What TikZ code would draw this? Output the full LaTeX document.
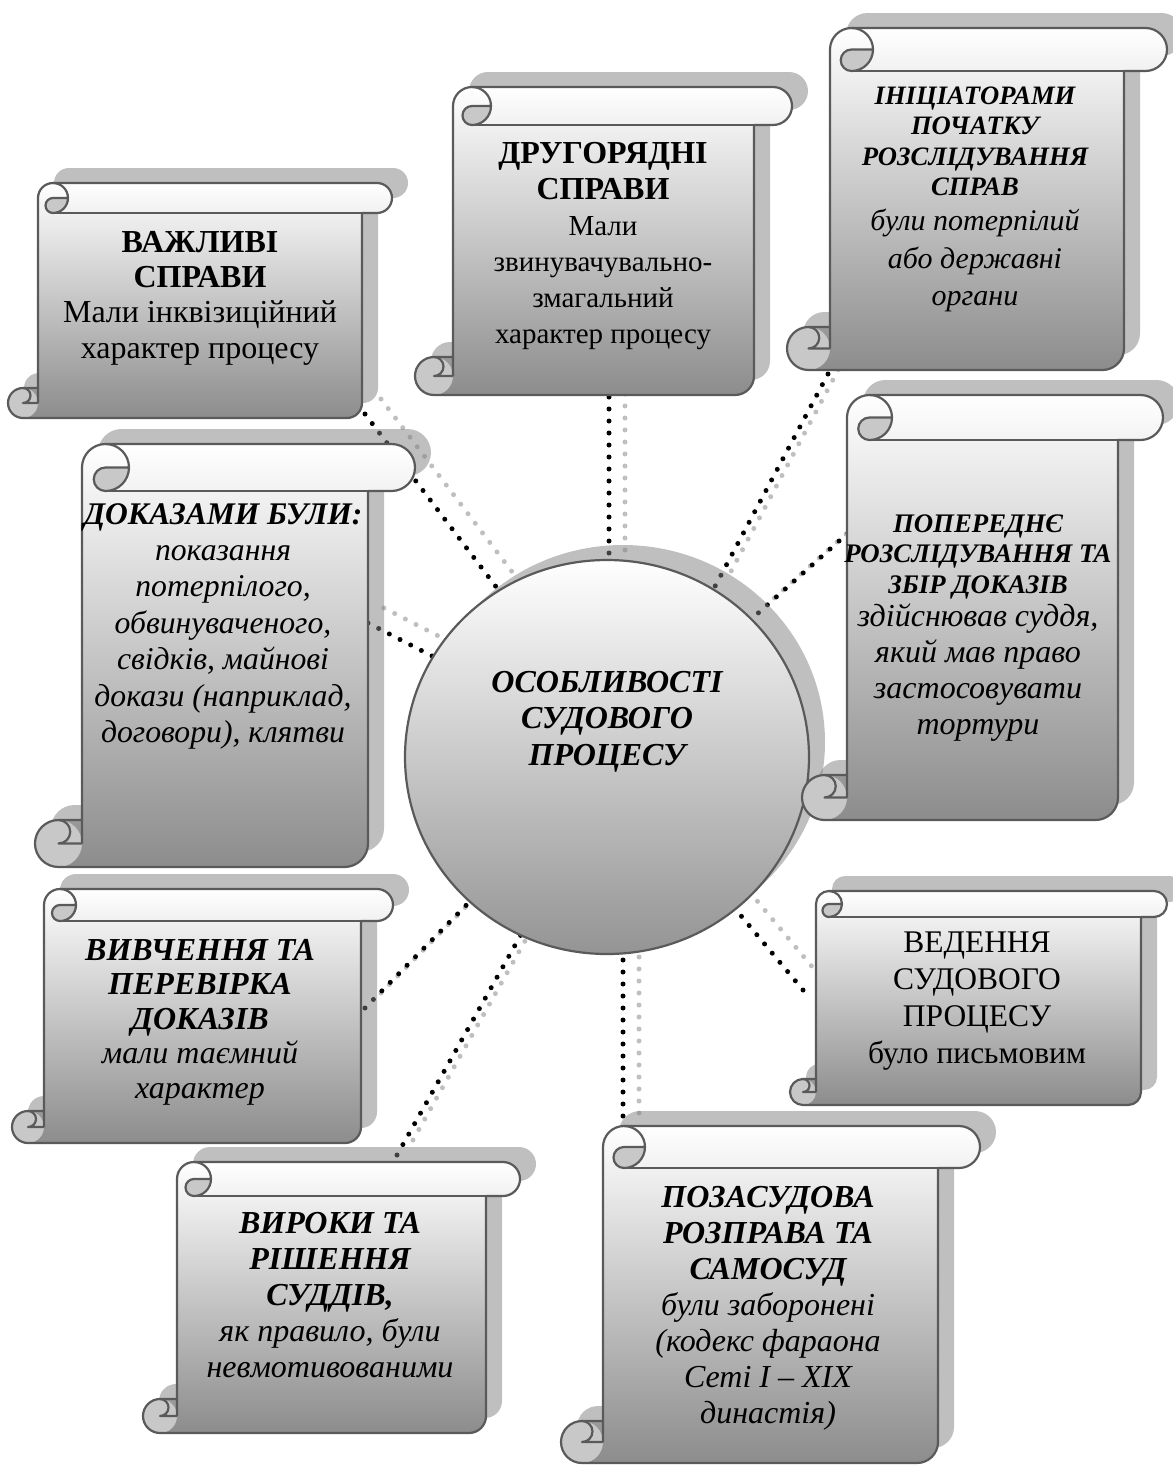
\documentclass[tikz,border=0pt]{standalone}
\usepackage{fontspec}
\setmainfont{Liberation Serif}
\usetikzlibrary{shapes.geometric}
\definecolor{edge}{HTML}{5A5A5A}
\definecolor{curl}{HTML}{C8C8C8}
\newcommand\tyB{\bfseries\upshape}
\newcommand\tyBI{\bfseries\itshape}
\newcommand\tyI{\mdseries\itshape}
\newcommand\tyR{\mdseries\upshape}
\tikzset{
 outl/.style={draw=edge, line width=2.2pt, line join=round},
 shadowfill/.style={fill=black!50, fill opacity=0.5},
 dotsblack/.style={draw=black, line width=5pt, line cap=round, dash pattern=on 0pt off 12pt},
 dotsshadow/.style={draw=black!50, draw opacity=0.5, line width=5pt, line cap=round, dash pattern=on 0pt off 12pt},
 shd/.style={xshift=16pt, yshift=15pt},
 txt/.style={anchor=north, inner sep=0pt, align=center, text=black},
}
% x0, y0, x1, y1, roll thickness (pixel coordinates, y downwards)
\newcommand\DrawScroll[5]{%
 \pgfmathsetmacro\Ch{#5/2}\pgfmathsetmacro\Cq{#5/4}%
 \pgfmathsetmacro\Xa{#1+#5}\pgfmathsetmacro\Xc{#1+#5/2}%
 \pgfmathsetmacro\Xt{#1+1.5*#5}\pgfmathsetmacro\Xf{#1+2*#5}%
 \pgfmathsetmacro\Xs{#3-#5}\pgfmathsetmacro\Xr{#3-#5/2}\pgfmathsetmacro\Xq{#3-1.5*#5}%
 \pgfmathsetmacro\Yr{#2+#5}\pgfmathsetmacro\Ym{#2+#5/2}%
 \pgfmathsetmacro\Yt{#4-#5}\pgfmathsetmacro\Yh{#4-#5/2}%
 \fill[shadowfill,xshift=16pt,yshift=15pt] (\Xc,#4) -- (\Xq,#4) arc[start angle=90,end angle=0,radius=\Ch]
   -- (\Xs,\Yr) -- (\Xr,\Yr) arc[start angle=90,end angle=-90,radius=\Ch]
   -- (\Xt,#2) arc[start angle=270,end angle=180,radius=\Ch]
   -- (\Xa,\Yt) -- (\Xc,\Yt) arc[start angle=270,end angle=90,radius=\Ch] -- cycle;
 \shade[top color=white,bottom color=black!45] (\Xc,#4) -- (\Xq,#4) arc[start angle=90,end angle=0,radius=\Ch]
   -- (\Xs,\Yr) -- (\Xr,\Yr) arc[start angle=90,end angle=-90,radius=\Ch]
   -- (\Xt,#2) arc[start angle=270,end angle=180,radius=\Ch]
   -- (\Xa,\Yt) -- (\Xc,\Yt) arc[start angle=270,end angle=90,radius=\Ch] -- cycle;
 \fill[curl] (\Xc,\Yh) circle[radius=\Ch];
 \fill[curl] (\Xt,\Ym) -- (\Xf,\Ym) arc[start angle=0,end angle=90,radius=\Ch]
   arc[start angle=90,end angle=270,radius=\Cq] -- cycle;
 \draw[outl] (\Xa,\Yh) -- (\Xa,\Ym) arc[start angle=180,end angle=270,radius=\Ch]
   -- (\Xr,#2) arc[start angle=-90,end angle=90,radius=\Ch]
   -- (\Xs,\Yr) -- (\Xs,\Yh) arc[start angle=0,end angle=90,radius=\Ch]
   -- (\Xc,#4) arc[start angle=90,end angle=270,radius=\Ch] -- (\Xa,\Yt);
 \draw[outl] (\Xt,#2) arc[start angle=-90,end angle=90,radius=\Ch]
   arc[start angle=90,end angle=270,radius=\Cq] -- (\Xf,\Ym);
 \draw[outl] (\Xt,\Yr) -- (\Xs,\Yr);
 \draw[outl] (\Xc,\Yt) arc[start angle=-90,end angle=90,radius=\Cq] -- (\Xa,\Yh);
}
\begin{document}
\begin{tikzpicture}[x=1pt,y=-1pt]
\useasboundingbox (0,0) rectangle (1173,1465);
% connector end points
\coordinate (a1) at (365,414);  \coordinate (b1) at (500,592);
\coordinate (a2) at (609,397);  \coordinate (b2) at (609,568);
\coordinate (a3) at (828,374);  \coordinate (b3) at (712,592);
\coordinate (a4) at (848,533);  \coordinate (b4) at (756,615);
\coordinate (a5) at (368,623);  \coordinate (b5) at (436,658);
\coordinate (a6) at (365,1008); \coordinate (b6) at (495,876);
\coordinate (a7) at (397,1155); \coordinate (b7) at (545,892);
\coordinate (a8) at (623,1128); \coordinate (b8) at (623,948);
\coordinate (a9) at (803,990);  \coordinate (b9) at (722,893);
% connector shadows
\foreach \i in {1,...,9}{\draw[dotsshadow] ([shd]a\i) -- ([shd]b\i);}
% connectors
\foreach \i in {1,...,9}{\draw[dotsblack] (a\i) -- (b\i);}
% central ellipse
\fill[shadowfill] (623,742) ellipse[x radius=202, y radius=197];
\node[ellipse, outl, top color=white, bottom color=black!42, minimum width=404pt, minimum height=394pt, inner sep=0pt] (ell) at (607,757) {};
\node[txt, font=\fontsize{32}{36.5}\selectfont] (ellt) at (607,670.8)
 {\tyBI ОСОБЛИВОСТІ\\\tyBI СУДОВОГО\\\tyBI ПРОЦЕСУ};
% scrolls
\DrawScroll{8}{183}{392}{418}{30}
\DrawScroll{415}{87}{792}{395}{38}
\DrawScroll{787}{28}{1167}{370}{43}
\DrawScroll{35}{444}{415}{867}{47}
\DrawScroll{802}{395}{1163}{820}{45}
\DrawScroll{790}{891}{1167}{1105}{26}
\DrawScroll{12}{889}{393}{1143}{32}
\DrawScroll{143}{1162}{520}{1433}{34}
\DrawScroll{561}{1126}{980}{1463}{42}
% texts
\node[txt, font=\fontsize{32}{35.3}\selectfont] (t1) at (200,230.8)
 {\tyB ВАЖЛИВІ\\\tyB СПРАВИ\\\tyR Мали інквізиційний\\\tyR характер процесу};
\node[txt, font=\fontsize{32}{36}\selectfont] (t2) at (603,141.8)
 {\tyB ДРУГОРЯДНІ\\\tyB СПРАВИ\\\fontsize{29}{36}\selectfont\tyR Мали\\\fontsize{29}{36}\selectfont\tyR звинувачувально-\\\fontsize{29}{36}\selectfont\tyR змагальний\\\fontsize{29}{36}\selectfont\tyR характер процесу};
\node[txt, font=\fontsize{26.6}{30.5}\selectfont] (t3) at (975,86.4)
 {\tyBI ІНІЦІАТОРАМИ\\\tyBI ПОЧАТКУ\\\tyBI РОЗСЛІДУВАННЯ\\\tyBI СПРАВ\\[4.5pt]
  \fontsize{30}{30.5}\selectfont\tyI були потерпілий\\[7pt]\fontsize{30}{30.5}\selectfont\tyI або державні\\[7pt]\fontsize{30}{30.5}\selectfont\tyI органи};
\node[txt, font=\fontsize{31.7}{36.4}\selectfont] (t4) at (223,503.1)
 {\fontsize{31.5}{36.4}\selectfont\tyBI ДОКАЗАМИ БУЛИ:\\\tyI показання\\\tyI потерпілого,\\\tyI обвинуваченого,\\\tyI свідків, майнові\\\tyI докази (наприклад,\\\tyI договори), клятви};
\node[txt, font=\fontsize{26.8}{30.5}\selectfont] (t5) at (978,514.3)
 {\tyBI ПОПЕРЕДНЄ\\\tyBI РОЗСЛІДУВАННЯ ТА\\\tyBI ЗБІР ДОКАЗІВ\\[2.5pt]
  \fontsize{32}{30.5}\selectfont\tyI здійснював суддя,\\[5.5pt]\fontsize{32}{30.5}\selectfont\tyI який мав право\\[5.5pt]\fontsize{32}{30.5}\selectfont\tyI застосовувати\\[5.5pt]\fontsize{32}{30.5}\selectfont\tyI тортури};
\node[txt, font=\fontsize{31.5}{37}\selectfont] (t6) at (977,932.1)
 {\tyR ВЕДЕННЯ\\\tyR СУДОВОГО\\\tyR ПРОЦЕСУ\\\tyR було письмовим};
\node[txt, font=\fontsize{32}{34.5}\selectfont] (t7) at (200,938.8)
 {\tyBI ВИВЧЕННЯ ТА\\\tyBI ПЕРЕВІРКА\\\tyBI ДОКАЗІВ\\\tyI мали таємний\\\tyI характер};
\node[txt, font=\fontsize{32}{36}\selectfont] (t8) at (330,1211.8)
 {\tyBI ВИРОКИ ТА\\\tyBI РІШЕННЯ\\\tyBI СУДДІВ,\\\tyI як правило, були\\\tyI невмотивованими};
\node[txt, font=\fontsize{32}{36}\selectfont] (t9) at (768,1185.8)
 {\tyBI ПОЗАСУДОВА\\\tyBI РОЗПРАВА ТА\\\tyBI САМОСУД\\\tyI були заборонені\\\tyI (кодекс фараона\\\tyI Сеті I – XIX\\\tyI династія)};
\end{tikzpicture}
\end{document}
